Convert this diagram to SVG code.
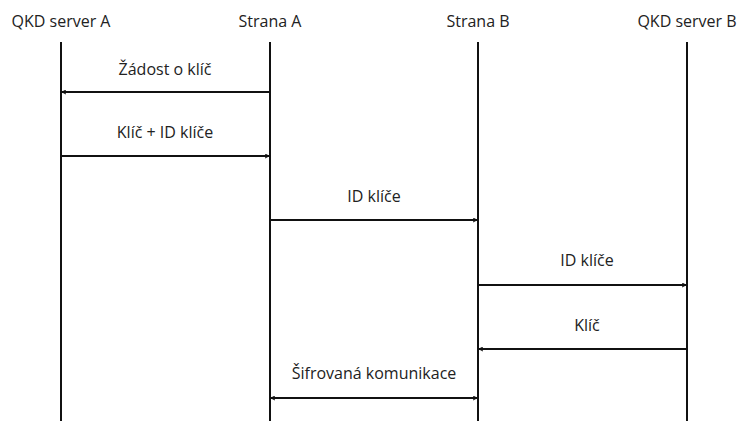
<svg xmlns="http://www.w3.org/2000/svg" width="740" height="421" viewBox="0 0 740 421">
  <style>
    text { font-family: "Open Sans", "Noto Sans", "DejaVu Sans", sans-serif; font-size: 16px; fill: #222; text-anchor: middle; }
    .life { stroke: #111; stroke-width: 2; fill: none; }
    .msg { stroke: #111; stroke-width: 2; fill: none; }
  </style>
  <defs>
    <marker id="head" viewBox="0 0 10 10" refX="9" refY="5" markerWidth="5" markerHeight="5" orient="auto-start-reverse" markerUnits="userSpaceOnUse">
      <path d="M1,1 L9,5 L1,9" fill="none" stroke="#111" stroke-width="2"/>
    </marker>
  </defs>
  <rect width="740" height="421" fill="#fff"/>

  <g id="qkd-server-a">
    <text x="61" y="27">QKD server A</text>
    <line class="life" x1="61" y1="42" x2="61" y2="421"/>
  </g>
  <g id="strana-a">
    <text x="270" y="27">Strana A</text>
    <line class="life" x1="270" y1="42" x2="270" y2="421"/>
  </g>
  <g id="strana-b">
    <text x="478" y="27">Strana B</text>
    <line class="life" x1="478" y1="42" x2="478" y2="421"/>
  </g>
  <g id="qkd-server-b">
    <text x="687" y="27">QKD server B</text>
    <line class="life" x1="687" y1="42" x2="687" y2="421"/>
  </g>

  <g id="connectors">
    <line class="msg" x1="270" y1="92" x2="62" y2="92" marker-end="url(#head)"/>
    <text x="165" y="75">Žádost o klíč</text>

    <line class="msg" x1="61" y1="156" x2="269" y2="156" marker-end="url(#head)"/>
    <text x="165" y="138">Klíč + ID klíče</text>

    <line class="msg" x1="270" y1="220" x2="477" y2="220" marker-end="url(#head)"/>
    <text x="374" y="202">ID klíče</text>

    <line class="msg" x1="478" y1="285" x2="686" y2="285" marker-end="url(#head)"/>
    <text x="587" y="266">ID klíče</text>

    <line class="msg" x1="687" y1="349" x2="479" y2="349" marker-end="url(#head)"/>
    <text x="587" y="331">Klíč</text>

    <line class="msg" x1="271" y1="398" x2="477" y2="398" marker-start="url(#head)" marker-end="url(#head)"/>
    <text x="374" y="379">Šifrovaná komunikace</text>
  </g>
</svg>
